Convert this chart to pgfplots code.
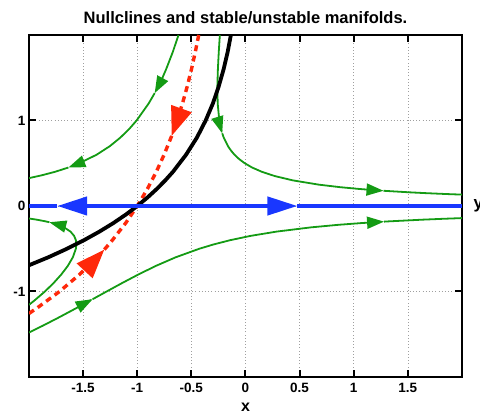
\documentclass[border=0pt]{standalone}
\usepackage{fontspec}
\setmainfont{Liberation Sans}
\usepackage{pgfplots}
\pgfplotsset{compat=1.18}
\usetikzlibrary{arrows.meta}
\definecolor{trajg}{RGB}{20,155,20}
\definecolor{manb}{RGB}{25,55,255}
\definecolor{manr}{RGB}{255,40,10}
\tikzset{
  garr/.style={trajg, line width=1.8pt, -{Triangle[length=17pt,width=12pt]}},
  gline/.style={trajg, line width=1.8pt},
  rarr/.style={manr, line width=3.4pt, dash pattern=on 6pt off 4.5pt, -{Triangle[length=29pt,width=21pt]}},
  rline/.style={manr, line width=3.4pt, dash pattern=on 6pt off 4.5pt},
  barr/.style={manb, line width=4.2pt, -{Triangle[length=30pt,width=18pt]}},
  bline/.style={manb, line width=4.2pt},
}
\begin{document}
\begin{tikzpicture}
\begin{axis}[
  at={(0pt,0pt)}, anchor=south west,
  scale only axis, width=433pt, height=342pt,
  xmin=-2, xmax=2, ymin=-2, ymax=2,
  xtick={-1.5,-1,-0.5,0,0.5,1,1.5},
  xticklabels={-1.5,-1,-0.5,0,0.5,1,1.5},
  ytick={-1,0,1}, yticklabels={-1,0,1},
  tick align=inside, major tick length=7pt,
  every tick/.style={black, line width=2pt},
  axis line style={line width=2pt},
  grid=major,
  major grid style={gray!75, line width=0.7pt, dash pattern=on 0.8pt off 2.4pt},
  ticklabel style={font=\bfseries\fontsize{13.5}{13.5}\selectfont},
  xticklabel style={yshift=-3pt},
  title={Nullclines and stable/unstable manifolds.},
  title style={font=\bfseries\fontsize{16.5}{16.5}\selectfont, yshift=2pt},
  xlabel={x},
  xlabel style={font=\bfseries\fontsize{16}{16}\selectfont, yshift=-3pt},
  clip=true, clip mode=individual,
]
% trajectories
\addplot[garr] coordinates {(-0.619,2) (-0.672,1.8) (-0.733,1.6) (-0.767,1.5) (-0.805,1.4) (-0.822,1.36) (-0.839,1.32)};
\addplot[garr] coordinates {(-0.839,1.32) (-0.894,1.2) (-1.006,1.0) (-1.075,0.9) (-1.156,0.8) (-1.253,0.7) (-1.375,0.6) (-1.535,0.5) (-1.636,0.45)};
\addplot[gline] coordinates {(-1.636,0.45) (-1.759,0.4) (-1.879,0.36) (-2.0,0.326)};

\addplot[garr] coordinates {(-0.237,2) (-0.247,1.8) (-0.255,1.6) (-0.260,1.4) (-0.257,1.2) (-0.242,1.0) (-0.226,0.9) (-0.221,0.875) (-0.215,0.85)};
\addplot[garr] coordinates {(-0.215,0.85) (-0.201,0.8) (-0.162,0.7) (-0.135,0.65) (-0.102,0.6) (-0.060,0.55) (-0.007,0.5) (0.061,0.45) (0.151,0.4) (0.271,0.35) (0.436,0.3) (0.675,0.25) (0.875,0.22) (1.044,0.2) (1.142,0.19) (1.275,0.178)};
\addplot[gline] coordinates {(1.275,0.178) (1.513,0.16) (1.671,0.15) (1.853,0.14) (2.0,0.133)};

\addplot[garr] coordinates {(-2.0,-1.48) (-1.872,-1.4) (-1.719,-1.3) (-1.571,-1.2) (-1.427,-1.1) (-1.412,-1.09)};
\addplot[garr] coordinates {(-1.412,-1.09) (-1.283,-1.0) (-1.138,-0.9) (-0.988,-0.8) (-0.827,-0.7) (-0.645,-0.6) (-0.427,-0.5) (-0.296,-0.45) (-0.142,-0.4) (0.045,-0.35) (0.284,-0.3) (0.604,-0.25) (0.859,-0.22) (1.068,-0.2) (1.280,-0.183)};
\addplot[gline] coordinates {(1.280,-0.183) (1.321,-0.18) (1.634,-0.16) (1.821,-0.15) (2.0,-0.1415)};

\addplot[garr] coordinates {(-2.0,-1.156) (-1.945,-1.1) (-1.853,-1.0) (-1.772,-0.9) (-1.701,-0.8) (-1.641,-0.7) (-1.595,-0.6) (-1.567,-0.5) (-1.563,-0.45) (-1.567,-0.4) (-1.583,-0.35) (-1.616,-0.3) (-1.676,-0.25) (-1.782,-0.2) (-1.812,-0.19)};
\addplot[gline] coordinates {(-1.812,-0.19) (-1.846,-0.18) (-1.928,-0.16) (-2.0,-0.1462)};

% stable manifold
\addplot[rarr] coordinates {(-0.432,2) (-0.464,1.8) (-0.499,1.6) (-0.538,1.4) (-0.582,1.2) (-0.632,1.0) (-0.665,0.88) (-0.682,0.82)};
\addplot[rline] coordinates {(-0.682,0.82) (-0.688,0.8) (-0.752,0.6) (-0.824,0.4) (-0.906,0.2) (-1,0)};
\addplot[rarr] coordinates {(-2.0,-1.257) (-1.933,-1.2) (-1.718,-1.0) (-1.532,-0.8) (-1.370,-0.6) (-1.304,-0.51)};
\addplot[rline] coordinates {(-1.304,-0.51) (-1.230,-0.4) (-1.107,-0.2) (-1,0)};

% x-nullcline
\addplot[black, line width=3.8pt] coordinates {(-2.0,-0.693) (-1.822,-0.6) (-1.649,-0.5) (-1.492,-0.4) (-1.350,-0.3) (-1.221,-0.2) (-1.105,-0.1) (-1,0) (-0.905,0.1) (-0.819,0.2) (-0.741,0.3) (-0.670,0.4) (-0.549,0.6) (-0.449,0.8) (-0.368,1.0) (-0.301,1.2) (-0.247,1.4) (-0.202,1.6) (-0.165,1.8) (-0.135,2.0)};

% unstable manifold / y-nullcline
\addplot[barr] coordinates {(-1,0) (-1.74,0)};
\addplot[bline] coordinates {(-1.74,0) (-2,0)};
\addplot[barr] coordinates {(-1,0) (0.48,0)};
\addplot[bline] coordinates {(0.48,0) (2,0)};

\node[font=\bfseries\fontsize{17}{17}\selectfont, anchor=west] at (axis cs:2,0) [xshift=8pt] {y};
\end{axis}
\pgfresetboundingbox
\useasboundingbox (-29pt,-37pt) rectangle (451pt,377pt);
\end{tikzpicture}
\end{document}
